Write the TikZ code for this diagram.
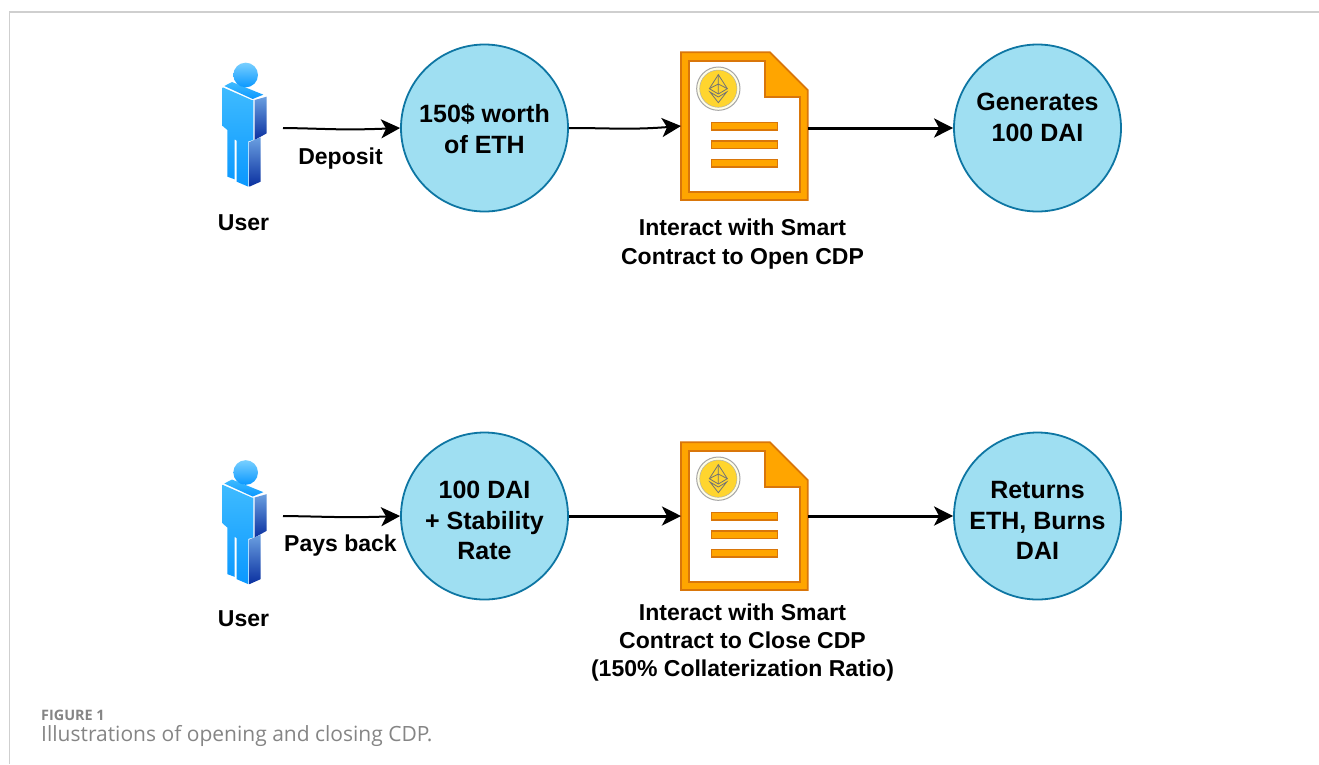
\documentclass[tikz,border=0pt]{standalone}
\usepackage{fontspec}
\setmainfont{Liberation Sans}
\newfontfamily\capfont{Open Sans}
\usetikzlibrary{arrows.meta,positioning}
\definecolor{circfill}{HTML}{9FDFF2}
\definecolor{circline}{HTML}{0E76A3}
\definecolor{docfill}{HTML}{FFA500}
\definecolor{docline}{HTML}{D9760A}
\definecolor{capgray}{HTML}{858585}
\definecolor{frameg}{HTML}{CFCFCF}
\definecolor{pbright}{HTML}{3FBBFF}
\definecolor{pmid}{HTML}{0A98FF}
\definecolor{pdark}{HTML}{0A30A0}
\definecolor{pside}{HTML}{6A9FE0}
\definecolor{coingold}{HTML}{FFD52E}
\tikzset{
  x=1pt,y=-1pt,
  disc/.style={circle,draw=circline,line width=1.8pt,fill=circfill,minimum size=167pt,inner sep=0pt},
  disctext/.style={align=center,font=\fontsize{25}{30.5}\selectfont\bfseries,inner sep=0pt},
  lbl/.style={align=center,font=\fontsize{23}{28}\selectfont\bfseries,inner sep=0pt},
  anchorbox/.style={inner sep=0pt,outer sep=0pt,draw=none,fill=none},
  link/.style={line width=2pt,-{Stealth[length=19pt,width=19pt,inset=5pt]}},
  linkthick/.style={line width=3pt,-{Stealth[length=19pt,width=19pt,inset=5pt]}},
  personpic/.pic={
    \begin{scope}[x=0.3333pt,y=-0.3333pt]
      \shade[top color=pbright,bottom color=pmid] (68,112)--(155,150)--(160,150)--(160,270)--(145,274)--(145,410)--(110,395)--(110,272)--(104,268)--(104,388)--(82,380)--(82,240)--(68,228)--cycle;
      \shade[top color=pside,bottom color=pdark] (164,150)--(200,140)--(200,250)--(164,270)--cycle;
      \shade[top color=pside,bottom color=pdark] (148,276)--(182,262)--(182,395)--(148,410)--cycle;
      \shade[top color=pbright,bottom color=pmid] (73,108)--(96,96)--(190,134)--(158,147)--cycle;
      \shade[top color=pbright!70!white,bottom color=pmid] (137,75) circle (37);
    \end{scope}
  },
  docpic/.pic={
    \begin{scope}[x=0.3333pt,y=-0.3333pt]
      \draw[line width=1.8pt,draw=docline,fill=docfill] (33,37)--(300,37)--(413,150)--(413,480)--(33,480)--cycle;
      \draw[line width=1.8pt,draw=docline,fill=white] (58,62)--(285,62)--(285,172)--(390,172)--(390,457)--(58,457)--cycle;
      \foreach \yy in {247,303,358}{
        \draw[line width=1.5pt,draw=docline,fill=docfill] (125,\yy) rectangle (322,\yy+23);
      }
      \draw[line width=1pt,draw=gray!70,fill=white!90!yellow] (145,146) circle (65);
      \draw[line width=.5pt,draw=gray!60,fill=coingold] (145,146) circle (56);
      \draw[line width=.8pt,draw=gray!90!black,fill=coingold] (145,104)--(172,146)--(145,162)--(118,146)--cycle;
      \draw[line width=.8pt,draw=gray!90!black] (145,104)--(145,162) (118,146)--(145,132)--(172,146);
      \draw[line width=.8pt,draw=gray!90!black] (120,156)--(145,188)--(170,156)--(145,171)--cycle;
    \end{scope}
  }
}
\begin{document}
\begin{tikzpicture}
\useasboundingbox (0,0) rectangle (1319,764);
\fill[white] (0,0) rectangle (1319,764);
\draw[frameg,line width=1.4pt] (9.5,764)--(9.5,12)--(1319,12);

% top row
\pic at (200,50) {personpic};
\node[anchorbox,minimum width=62pt,minimum height=126pt] (u1) at (245,125) {};
\node[disc] (a1) at (484.5,128) {};
\node[disctext] (a1t) at (484.5,129) {150\$ worth\\of ETH};
\pic at (670,40) {docpic};
\node[anchorbox,minimum width=127pt,minimum height=148pt] (d1) at (744.5,126) {};
\node[disc] (g1) at (1037.5,128) {};
\node[disctext] (g1t) at (1037.5,117.5) {Generates\\100 DAI};
\node[lbl] (l1) at (340.5,158.5) {Deposit};
\node[lbl] (t1) at (243.5,222.5) {User};
\node[lbl,font=\fontsize{23}{29}\selectfont\bfseries] (c1) at (742.5,244) {Interact with Smart\\Contract to Open CDP};
\coordinate (s1) at (283,128);
\draw[link] (s1) .. controls (325,128.5) and (340,130.5) .. (a1.west);
\draw[link] (a1.east) .. controls (610,128) and (630,130) .. (d1.west);
\draw[linkthick] (d1.east |- g1) -- (g1.west);

% bottom row
\pic at (200,447.5) {personpic};
\node[anchorbox,minimum width=62pt,minimum height=126pt] (u2) at (245,522) {};
\node[disc] (a2) at (484.5,516) {};
\node[disctext] (a2t) at (484.5,520.5) {100 DAI\\+ Stability\\Rate};
\pic at (670,430) {docpic};
\node[anchorbox,minimum width=127pt,minimum height=148pt] (d2) at (744.5,516) {};
\node[disc] (g2) at (1037.5,516) {};
\node[disctext] (g2t) at (1037.5,520.5) {Returns\\ETH, Burns\\DAI};
\node[lbl] (l2) at (340.5,545.5) {Pays back};
\node[lbl] (t2) at (243.5,619) {User};
\node[lbl] (c2) at (742.5,642.5) {Interact with Smart\\Contract to Close CDP\\(150\% Collaterization Ratio)};
\coordinate (s2) at (283,516);
\draw[link] (s2) .. controls (325,516.5) and (345,518) .. (a2.west);
\draw[linkthick] (a2.east) -- (d2.west);
\draw[linkthick] (d2.east |- g2) -- (g2.west);

% caption
\node[anchor=base west,inner sep=0pt,text=capgray,font=\capfont\fontsize{14.4}{16}\selectfont\bfseries] (f) at (41,720) {FIGURE 1};
\node[anchor=base west,inner sep=0pt,text=capgray,font=\capfont\fontsize{21}{24}\selectfont] (g) at (41,741.5) {Illustrations of opening and closing CDP.};
\end{tikzpicture}
\end{document}
